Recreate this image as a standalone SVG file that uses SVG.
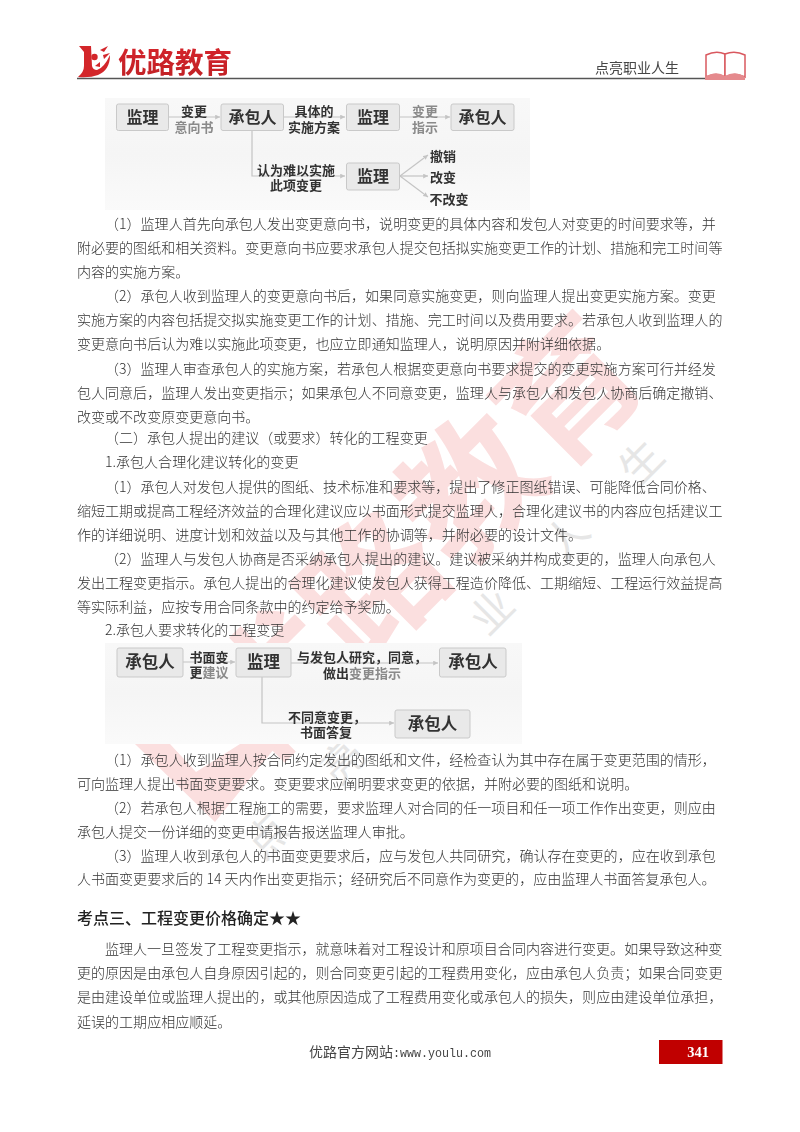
<svg xmlns="http://www.w3.org/2000/svg" width="800" height="1132" viewBox="0 0 800 1132">
<defs>
<style>
text{font-family:"Noto Sans CJK SC","Noto Sans",sans-serif}
.b{font-size:14.04px;fill:#333;font-weight:300}
.box{fill:#e9e9e9;stroke:#c9c9c9;stroke-width:1}
.n{font-size:16px;font-weight:700;fill:#333;text-anchor:middle}
.l{font-size:13px;font-weight:700;fill:#333;text-anchor:middle}
.g{fill:#8a8a8a}
.c{fill:none;stroke:#c4c4c4;stroke-width:1.2;marker-end:url(#a)}
.bg{fill:url(#bgf)}
</style>
<marker id="a" markerWidth="6" markerHeight="6" refX="4" refY="2" orient="auto" markerUnits="strokeWidth"><path d="M0 0L4 2L0 4z" fill="#c4c4c4"/></marker>
<linearGradient id="bgf" x1="0" y1="0" x2="0" y2="1"><stop offset="0" stop-color="#f8f8f8"/><stop offset=".5" stop-color="#f5f5f5"/><stop offset="1" stop-color="#fafafa"/></linearGradient>
<linearGradient id="lg" x1="0" y1="0" x2="0" y2="1"><stop offset="0" stop-color="#d8262c"/><stop offset="1" stop-color="#bf2026"/></linearGradient>
<filter id="s" x="-2%" y="-2%" width="104%" height="104%"><feGaussianBlur stdDeviation="0.35"/></filter>
</defs>
<rect width="800" height="1132" fill="#fff"/>
<g id="watermark">
<text transform="translate(262,768) rotate(-45)" font-size="138" font-weight="700" fill="#fbdfdf">优路教育</text>
<polygon points="135,744 215,822 278,744 240,744 196,772 170,744" fill="#fbdfdf"/>
<text transform="translate(268,836) rotate(-45)" x="-21" y="15" font-size="42" fill="#e6e6e6" letter-spacing="63.6">点亮职业人生</text>
</g>
<g filter="url(#s)">
<g id="header">
<path d="M79 46H91L92 66Q93 70 97 70Q104 68 110 55Q110 70 98 75Q90 78 78 77Q84 72 84 66V52Z" fill="#d3262c"/>
<circle cx="94.500" cy="57" r="3.200" fill="#d3262c"/>
<path d="M100 50L108 46L104 52ZM103 55L110 53L104 59ZM95 66L100 62L100 67Z" fill="#d3262c"/>
<text x="118" y="73" font-size="28.500" font-weight="700" fill="url(#lg)">优路教育</text>
<text x="595" y="73" font-size="14" fill="#444">点亮职业人生</text>
<path d="M77 78.500H706" stroke="#555" stroke-width="1.500"/>
<g id="book">
<path d="M706 55Q716 50 725 54V77Q716 72 706 77Z" fill="#fff" stroke="#d9595f" stroke-width="1.500"/>
<path d="M725 54Q735 50 745 55V77Q735 72 725 77Z" fill="#fff" stroke="#d9595f" stroke-width="1.500"/>
<path d="M705 77Q716 70 725 76Q735 70 745 77V80H705Z" fill="#e58a8d"/>
</g>
</g>
<g id="diagram-1">
<rect x="105" y="98" width="425" height="112" fill="#fff"/>
<rect class="bg" x="105" y="98" width="425" height="112"/>
<g id="connectors-1">
<path class="c" d="M169 117H220"/>
<path class="c" d="M283 117H345"/>
<path class="c" d="M400 117H450"/>
<path class="c" d="M252 130V176H345"/>
<path class="c" d="M400 176L428 155"/>
<path class="c" d="M400 176H428"/>
<path class="c" d="M400 176L428 197"/>
</g>
<g id="n1"><rect class="box" x="116.500" y="104" width="52" height="26.500" rx="2"/><text class="n" x="142.500" y="123">监理</text></g>
<g id="n2"><rect class="box" x="221" y="104" width="62.500" height="26.500" rx="2"/><text class="n" x="252.500" y="123">承包人</text></g>
<g id="n3"><rect class="box" x="346.500" y="104" width="53" height="26.500" rx="2"/><text class="n" x="373" y="123">监理</text></g>
<g id="n4"><rect class="box" x="451" y="104" width="63" height="26.500" rx="2"/><text class="n" x="482.500" y="123">承包人</text></g>
<g id="n5"><rect class="box" x="346.500" y="163" width="53" height="27" rx="2"/><text class="n" x="373" y="182">监理</text></g>
<text class="l" x="194" y="116">变更</text>
<text class="l g" x="194" y="132">意向书</text>
<text class="l" x="314" y="116">具体的</text>
<text class="l" x="314" y="132">实施方案</text>
<text class="l g" x="425" y="116">变更</text>
<text class="l g" x="425" y="132">指示</text>
<text class="l" x="296" y="175">认为难以实施</text>
<text class="l" x="296" y="190">此项变更</text>
<text class="l" x="443" y="161">撤销</text>
<text class="l" x="443" y="182">改变</text>
<text class="l" x="449" y="204">不改变</text>
</g>
<g id="body">
<text class="b" x="105" y="229">（1）监理人首先向承包人发出变更意向书，说明变更的具体内容和发包人对变更的时间要求等，并</text>
<text class="b" x="77" y="253">附必要的图纸和相关资料。变更意向书应要求承包人提交包括拟实施变更工作的计划、措施和完工时间等</text>
<text class="b" x="77" y="277">内容的实施方案。</text>
<text class="b" x="105" y="301">（2）承包人收到监理人的变更意向书后，如果同意实施变更，则向监理人提出变更实施方案。变更</text>
<text class="b" x="77" y="325">实施方案的内容包括提交拟实施变更工作的计划、措施、完工时间以及费用要求。若承包人收到监理人的</text>
<text class="b" x="77" y="349">变更意向书后认为难以实施此项变更，也应立即通知监理人，说明原因并附详细依据。</text>
<text class="b" x="105" y="374">（3）监理人审查承包人的实施方案，若承包人根据变更意向书要求提交的变更实施方案可行并经发</text>
<text class="b" x="77" y="398">包人同意后，监理人发出变更指示；如果承包人不同意变更，监理人与承包人和发包人协商后确定撤销、</text>
<text class="b" x="77" y="422">改变或不改变原变更意向书。</text>
<text class="b" x="105" y="443">（二）承包人提出的建议（或要求）转化的工程变更</text>
<text class="b" x="105" y="467">1.承包人合理化建议转化的变更</text>
<text class="b" x="105" y="492">（1）承包人对发包人提供的图纸、技术标准和要求等，提出了修正图纸错误、可能降低合同价格、</text>
<text class="b" x="77" y="516">缩短工期或提高工程经济效益的合理化建议应以书面形式提交监理人，合理化建议书的内容应包括建议工</text>
<text class="b" x="77" y="540">作的详细说明、进度计划和效益以及与其他工作的协调等，并附必要的设计文件。</text>
<text class="b" x="105" y="564">（2）监理人与发包人协商是否采纳承包人提出的建议。建议被采纳并构成变更的，监理人向承包人</text>
<text class="b" x="77" y="588">发出工程变更指示。承包人提出的合理化建议使发包人获得工程造价降低、工期缩短、工程运行效益提高</text>
<text class="b" x="77" y="612">等实际利益，应按专用合同条款中的约定给予奖励。</text>
<text class="b" x="105" y="635">2.承包人要求转化的工程变更</text>
<text class="b" x="105" y="765">（1）承包人收到监理人按合同约定发出的图纸和文件，经检查认为其中存在属于变更范围的情形，</text>
<text class="b" x="77" y="789">可向监理人提出书面变更要求。变更要求应阐明要求变更的依据，并附必要的图纸和说明。</text>
<text class="b" x="105" y="813">（2）若承包人根据工程施工的需要，要求监理人对合同的任一项目和任一项工作作出变更，则应由</text>
<text class="b" x="77" y="837">承包人提交一份详细的变更申请报告报送监理人审批。</text>
<text class="b" x="105" y="861">（3）监理人收到承包人的书面变更要求后，应与发包人共同研究，确认存在变更的，应在收到承包</text>
<text class="b" x="77" y="884">人书面变更要求后的 14 天内作出变更指示；经研究后不同意作为变更的，应由监理人书面答复承包人。</text>
<text x="77" y="924" font-size="16" font-weight="500" fill="#222">考点三、工程变更价格确定★★</text>
<text class="b" x="105" y="954">监理人一旦签发了工程变更指示，就意味着对工程设计和原项目合同内容进行变更。如果导致这种变</text>
<text class="b" x="77" y="978">更的原因是由承包人自身原因引起的，则合同变更引起的工程费用变化，应由承包人负责；如果合同变更</text>
<text class="b" x="77" y="1002">是由建设单位或监理人提出的，或其他原因造成了工程费用变化或承包人的损失，则应由建设单位承担，</text>
<text class="b" x="77" y="1027">延误的工期应相应顺延。</text>
</g>
<g id="diagram-2">
<rect x="105" y="643" width="417" height="101" fill="#fff"/>
<rect class="bg" x="105" y="643" width="417" height="101"/>
<g id="connectors-2">
<path class="c" d="M183 662H235"/>
<path class="c" d="M291 663H438"/>
<path class="c" d="M262 677V723H394"/>
</g>
<g id="n6"><rect class="box" x="117" y="648" width="66" height="29" rx="2"/><text class="n" x="150" y="668" style="font-size:16.500px">承包人</text></g>
<g id="n7"><rect class="box" x="236" y="648" width="55" height="29" rx="2"/><text class="n" x="263.500" y="668" style="font-size:16.500px">监理</text></g>
<g id="n8"><rect class="box" x="439.500" y="648" width="66.500" height="29" rx="2"/><text class="n" x="473" y="668" style="font-size:16.500px">承包人</text></g>
<g id="n9"><rect class="box" x="395" y="710" width="75" height="28" rx="2"/><text class="n" x="432.500" y="730" style="font-size:16.500px">承包人</text></g>
<text class="l" x="209" y="662">书面变</text>
<text class="l" x="209" y="677">更<tspan class="g">建议</tspan></text>
<text class="l" x="362" y="662">与发包人研究，同意，</text>
<text class="l" x="362" y="678">做出<tspan class="g">变更指示</tspan></text>
<text class="l" x="327" y="722">不同意变更，</text>
<text class="l" x="326" y="737">书面答复</text>
</g>
<g id="footer">
<text x="309" y="1057" font-size="14" fill="#444">优路官方网站<tspan font-family="Liberation Mono" font-size="13" textLength="98" lengthAdjust="spacingAndGlyphs">:www.youlu.com</tspan></text>
<rect x="659" y="1040" width="63.500" height="24" fill="#c00000"/>
<text x="698" y="1057" font-size="14.500" font-weight="700" fill="#fff" text-anchor="middle" style="font-family:'Liberation Serif',serif">341</text>
</g>
</g>
</svg>
